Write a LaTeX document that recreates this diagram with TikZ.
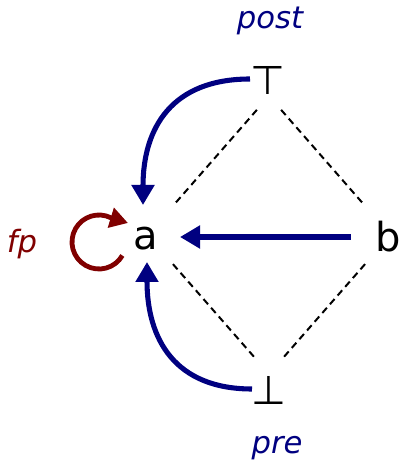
\documentclass[tikz,border=0pt]{standalone}
\usepackage{fontspec}
\setmainfont{DejaVu Sans}
\usetikzlibrary{arrows.meta,calc}
\definecolor{navyb}{RGB}{0,0,128}
\definecolor{darkr}{RGB}{128,0,0}
\begin{document}
\begin{tikzpicture}[x=0.75pt,y=0.75pt,
  elem/.style={inner sep=0pt,font=\fontsize{30}{30}\selectfont},
  lbl/.style={inner sep=0pt,font=\fontsize{23}{23}\selectfont\itshape},
  order/.style={draw=black,line width=1.5pt,dash pattern=on 5.2pt off 3.5pt},
  tip/.style={-{Triangle[length=15pt,width=16.5pt]}},
  rel/.style={draw=navyb,line width=3.8pt,tip},
  fprel/.style={draw=darkr,line width=3.6pt,-{Triangle[length=13.5pt,width=15pt]}}]
\useasboundingbox (0,0) rectangle (399,461);
% element nodes
\node[elem] (a) at (146,222.5) {a};
\node[elem] (b) at (388,224) {b};
\node[elem] (top) at (268,381) {⊤};
\node[elem] (bot) at (269,71) {⊥};
\node[lbl,text=navyb] (post) at (270,440) {post};
\node[lbl,text=navyb] (pre) at (277,13) {pre};
\node[lbl,text=darkr] (fp) at (22,216.5) {fp};
% diamond vertices of the order
\coordinate (vT) at (269,365);
\coordinate (vA) at (147.5,226);
\coordinate (vB) at (390.5,226);
\coordinate (vD) at (269,87);
\draw[order,shorten <=13.8pt,shorten >=29pt] (vT) -- (vA);
\draw[order,shorten <=13.8pt,shorten >=29pt] (vT) -- (vB);
\draw[order,shorten <=29pt,shorten >=13.8pt] (vA) -- (vD);
\draw[order,shorten <=29pt,shorten >=13.8pt] (vB) -- (vD);
% relation arrows
\coordinate (tS) at ($(top.center)+(-18,1)$);
\coordinate (tE) at ($(a.center)+(-3,33.5)$);
\coordinate (bS) at ($(bot.center)+(-17,1)$);
\coordinate (bE) at ($(a.center)+(1,-23.5)$);
\draw[rel,shorten <=28pt,shorten >=25.5pt] (b.center) -- (a.center |- b.center);
\draw[rel] (tS) to[out=180,in=90,looseness=1.2] (tE);
\draw[rel] (bS) to[out=180,in=-90,looseness=1.2] (bE);
% self loop
\coordinate (lc) at (99,219);
\coordinate (lt) at (128,238);
\draw[fprel] ($(lc)+(-30:27)$) arc[start angle=-30,end angle=-296,radius=27] -- (lt);
\end{tikzpicture}
\end{document}
